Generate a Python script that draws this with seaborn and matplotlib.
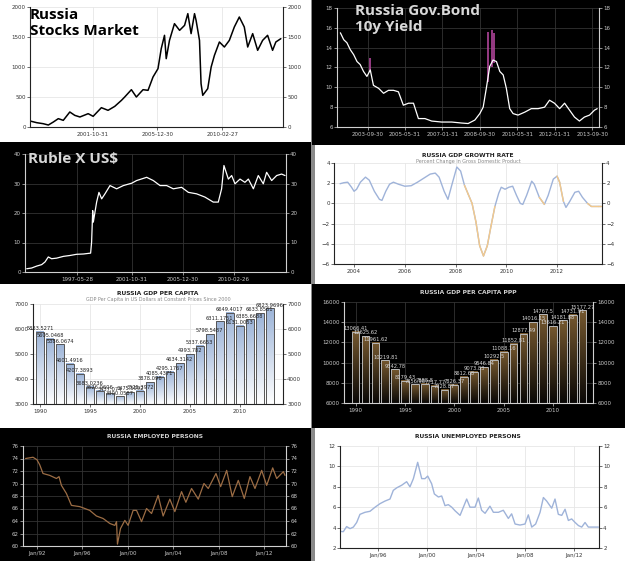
import numpy as np
import matplotlib
matplotlib.use("Agg")
import matplotlib.pyplot as plt
from matplotlib.colors import LinearSegmentedColormap
import seaborn as sns

# ---------------- data ----------------
# Russia stocks market (RTS index), decimal years
stock_years = [1997.80, 1998.23, 1998.65, 1998.98, 1999.30, 1999.62, 1999.94, 2000.36, 2000.68,
               2001.01, 2001.54, 2001.86, 2002.39, 2002.82, 2003.25, 2003.68, 2003.89, 2004.32,
               2004.64, 2005.07, 2005.39, 2005.71, 2006.03, 2006.24, 2006.45, 2006.56, 2006.77,
               2007.09, 2007.42, 2007.74, 2007.95, 2008.16, 2008.38, 2008.48, 2008.70, 2008.80,
               2008.91, 2009.23, 2009.45, 2009.66, 2009.98, 2010.30, 2010.62, 2010.94, 2011.26,
               2011.58, 2011.80, 2012.12, 2012.44, 2012.76, 2013.08, 2013.40, 2013.61, 2013.93]
stock_close = [100, 72, 55, 33, 83, 139, 111, 250, 194, 167, 222, 178, 322, 278, 344, 444, 500, 622,
               500, 622, 611, 833, 972, 1306, 1528, 1139, 1444, 1722, 1611, 1694, 1889, 1556, 1889,
               1778, 1444, 722, 528, 639, 1000, 1194, 1417, 1333, 1444, 1667, 1833, 1667, 1333, 1556,
               1278, 1444, 1528, 1278, 1417, 1472]
stock_ticks = [2001.83, 2005.99, 2010.16]
stock_labels = ["2001-10-31", "2005-12-30", "2010-02-27"]

# Russia 10y government bond yield
bond_years = [2002.54, 2002.69, 2002.83, 2002.98, 2003.13, 2003.28, 2003.42, 2003.57, 2003.72,
              2003.87, 2004.01, 2004.24, 2004.46, 2004.68, 2004.90, 2005.12, 2005.34, 2005.57,
              2005.79, 2006.01, 2006.30, 2006.60, 2007.04, 2007.49, 2007.93, 2008.22, 2008.52,
              2008.74, 2008.89, 2009.04, 2009.18, 2009.33, 2009.48, 2009.63, 2009.78, 2009.92,
              2010.07, 2010.22, 2010.44, 2010.74, 2011.03, 2011.33, 2011.62, 2011.84, 2012.06,
              2012.29, 2012.51, 2012.73, 2012.95, 2013.17, 2013.39, 2013.62, 2013.84, 2013.96]
bond_close = [15.5, 14.8, 14.5, 13.8, 13.3, 12.6, 12.3, 11.6, 11.1, 11.75, 10.2, 9.9, 9.4, 9.7, 9.7,
              9.55, 8.2, 8.4, 8.4, 6.85, 6.85, 6.6, 6.5, 6.5, 6.4, 6.35, 6.7, 7.35, 8.0, 10.05, 12.1,
              12.75, 12.6, 11.6, 11.25, 9.9, 7.85, 7.35, 7.2, 7.5, 7.85, 7.85, 8.0, 8.7, 8.4, 7.85,
              8.4, 7.7, 7.0, 6.6, 7.0, 7.2, 7.7, 7.85]
bond_spike_years = [2003.87, 2009.11, 2009.26, 2009.37]
bond_spike_low = [11.5, 10.5, 12.0, 12.5]
bond_spike_high = [13.0, 15.6, 15.8, 15.5]
bond_ticks = [2003.75, 2005.41, 2007.08, 2008.75, 2010.41, 2012.08, 2013.75]
bond_labels = ["2003-09-30", "2005-05-31", "2007-01-31", "2008-09-30",
               "2010-05-31", "2012-01-31", "2013-09-30"]

# Ruble per US dollar
ruble_years = [1993.27, 1993.67, 1994.08, 1994.49, 1994.76, 1995.03, 1995.30, 1995.71, 1996.26,
               1996.80, 1997.34, 1997.89, 1998.48, 1998.56, 1998.65, 1998.70, 1998.97, 1999.16,
               1999.38, 1999.65, 2000.06, 2000.60, 2001.15, 2001.83, 2002.23, 2003.05, 2003.59,
               2004.14, 2004.68, 2005.22, 2005.90, 2006.45, 2007.12, 2007.80, 2008.48, 2008.89,
               2009.16, 2009.35, 2009.71, 2009.98, 2010.25, 2010.66, 2011.06, 2011.34, 2011.75,
               2012.15, 2012.56, 2012.83, 2013.24, 2013.65, 2014.05, 2014.33]
ruble_rate = [1.1, 1.35, 2.0, 2.5, 3.4, 5.1, 4.5, 4.7, 5.3, 5.6, 6.0, 6.1, 6.4, 10.1, 20.8, 16.9, 23.7,
              27.0, 24.8, 26.5, 29.3, 28.2, 29.3, 30.1, 31.0, 32.1, 31.0, 29.3, 29.3, 28.2, 28.7,
              27.0, 26.5, 25.4, 23.7, 23.7, 28.2, 36.1, 31.5, 32.7, 29.9, 31.5, 30.4, 31.5, 28.2,
              32.7, 29.9, 33.8, 31.0, 32.7, 33.2, 32.7]
ruble_ticks = [1997.40, 2001.83, 2005.99, 2010.15]
ruble_labels = ["1997-05-28", "2001-10-31", "2005-12-30", "2010-02-26"]

# GDP growth rate (q/q, %)
growth_years = [2003.45, 2003.6, 2003.75, 2003.9, 2004.0, 2004.1, 2004.25, 2004.45, 2004.6, 2004.8,
                2005.0, 2005.1, 2005.25, 2005.4, 2005.55, 2005.75, 2006.0, 2006.25, 2006.5, 2006.75,
                2007.0, 2007.2, 2007.35, 2007.55, 2007.7, 2007.85, 2008.05, 2008.2, 2008.35, 2008.5,
                2008.65, 2008.8, 2008.95, 2009.1, 2009.25, 2009.4, 2009.55, 2009.7, 2009.8, 2009.95,
                2010.1, 2010.25, 2010.4, 2010.55, 2010.65, 2010.8, 2011.0, 2011.1, 2011.3, 2011.5,
                2011.65, 2011.85, 2012.0, 2012.1, 2012.25, 2012.35, 2012.5, 2012.7, 2012.85, 2013.0,
                2013.2, 2013.35, 2013.6, 2013.75]
growth_rate = [1.95, 2.05, 2.1, 1.6, 1.2, 1.4, 2.1, 2.6, 2.3, 1.2, 0.4, 0.3, 1.2, 1.9, 2.1, 1.9, 1.7,
               1.75, 2.1, 2.5, 2.9, 3.0, 2.6, 1.2, 0.4, 1.8, 3.6, 3.2, 1.8, 0.9, 0.0, -1.8, -4.2, -5.2,
               -4.2, -2.2, -0.3, 1.0, 1.6, 1.4, 1.6, 1.7, 0.8, 0.0, -0.1, 0.8, 2.2, 1.9, 0.6, -0.1,
               0.8, 2.4, 2.7, 2.1, 0.2, -0.4, 0.2, 1.1, 1.2, 0.6, 0.0, -0.3, -0.3, -0.3]
growth_orange = [False] * 28 + [True] * 9 + [False] * 11 + [True] * 2 + [False] * 2 \
    + [True] * 3 + [False] * 5 + [True] * 4

# GDP per capita (constant 2000 USD) and PPP
gdp_years = list(range(1990, 2014))
gdp_pc = [5883.5271, 5605.0468, 5386.0674, 4601.4916, 4207.3893, 3683.0236, 3526.0606, 3437.074,
          3300.0587, 3475.5992, 3525.3972, 3878.096, 4085.4371, 4295.1767, 4634.3142, 4993.782,
          5337.6653, 5798.5487, 6311.1751, 6649.4017, 6131.0053, 6385.6688, 6633.8561, 6823.9696]
gdp_ppp = [13066.41, 12625.62, 11961.62, 10219.81, 9342.78, 8179.43, 7856.98, 7888.8, 7717.77,
           7328.87, 7826.37, 8612.68, 9073.83, 9546.84, 10292.5, 11088.16, 11852.81, 12877.49,
           14016.15, 14767.5, 13616.21, 14181.88, 14731.91, 15177.27]

# Employed persons (millions)
emp_years = [1991.0, 1991.65, 1992.0, 1992.24, 1992.53, 1993.12, 1993.71, 1993.94, 1994.15, 1994.59,
             1995.03, 1995.76, 1996.06, 1996.64, 1997.23, 1997.82, 1998.41, 1998.85, 1999.0, 1999.08,
             1999.35, 1999.73, 2000.02, 2000.46, 2000.76, 2001.2, 2001.64, 2002.08, 2002.66, 2003.1,
             2003.69, 2004.13, 2004.72, 2005.1, 2005.6, 2006.19, 2006.69, 2007.07, 2007.75, 2008.16,
             2008.69, 2009.18, 2009.71, 2010.24, 2010.74, 2011.18, 2011.77, 2012.21, 2012.74, 2013.09,
             2013.68, 2013.82]
emp_persons = [74.0, 74.2, 73.8, 73.0, 71.6, 71.3, 70.8, 71.1, 69.7, 68.4, 66.5, 66.3, 66.1, 65.7,
               64.8, 64.4, 63.6, 63.3, 63.9, 60.3, 62.8, 64.1, 63.3, 65.7, 65.7, 63.9, 66.0, 65.2,
               68.1, 64.8, 67.5, 65.5, 68.7, 67.0, 69.2, 67.5, 70.0, 69.2, 71.6, 69.5, 72.1, 67.9,
               70.5, 67.6, 71.1, 69.2, 72.1, 69.7, 72.5, 70.8, 71.9, 71.3]

# Unemployed persons (millions)
unemp_years = [1992.87, 1993.14, 1993.41, 1993.69, 1993.96, 1994.23, 1994.5, 1994.91, 1995.32,
               1995.73, 1996.14, 1996.54, 1996.95, 1997.22, 1997.5, 1997.9, 1998.31, 1998.58,
               1998.86, 1999.21, 1999.54, 1999.81, 2000.03, 2000.35, 2000.57, 2000.9, 2001.17,
               2001.44, 2001.71, 2001.99, 2002.26, 2002.67, 2003.21, 2003.48, 2003.89, 2004.16,
               2004.43, 2004.71, 2005.11, 2005.39, 2005.8, 2006.2, 2006.61, 2006.88, 2007.16,
               2007.56, 2007.97, 2008.24, 2008.52, 2008.84, 2009.2, 2009.47, 2009.74, 2010.15,
               2010.42, 2010.69, 2010.97, 2011.24, 2011.51, 2011.78, 2012.06, 2012.33, 2012.6,
               2012.87, 2013.14, 2013.55, 2013.96]
unemp_persons = [3.63, 3.6, 4.1, 3.9, 4.05, 4.5, 5.3, 5.5, 5.6, 6.0, 6.35, 6.6, 6.8, 7.65, 7.9, 8.15,
                 8.5, 8.0, 8.8, 10.4, 8.8, 8.8, 9.05, 8.3, 7.3, 7.0, 7.1, 6.15, 6.25, 6.0, 5.65, 5.2,
                 6.8, 6.0, 6.0, 6.9, 5.7, 5.4, 6.1, 5.5, 5.5, 5.7, 4.9, 5.35, 4.35, 4.25, 4.35, 5.25,
                 4.05, 4.35, 5.5, 6.95, 6.6, 5.9, 6.8, 5.3, 5.2, 5.8, 4.7, 4.85, 4.5, 4.2, 4.05, 4.5,
                 4.05, 4.05, 4.05]
jan_ticks = [1992, 1996, 2000, 2004, 2008, 2012]
jan_labels = ["Jan/92", "Jan/96", "Jan/00", "Jan/04", "Jan/08", "Jan/12"]

# ---------------- layout helpers ----------------
sns.set_style("white")
plt.rcParams["font.family"] = ["DejaVu Sans"]

W, H = 625, 561
fig = plt.figure(figsize=(W / 100, H / 100), dpi=100, facecolor="#8a8a8a")


def box(x0, y0, x1, y1):
    return [x0 / W, 1 - y1 / H, (x1 - x0) / W, (y1 - y0) / H]


def panel(x0, y0, x1, y1, color):
    bg = fig.add_axes(box(x0, y0, x1, y1))
    bg.set_facecolor(color)
    bg.set_xticks([])
    bg.set_yticks([])
    for s in bg.spines.values():
        s.set_visible(False)


def make_axes(rect, dark, xlim, ylim, yticks, xticks, xlabels):
    ax = fig.add_axes(box(*rect))
    fg = "#c8c8c8" if dark else "#333333"
    spine = "#d0d0d0" if dark else "#222222"
    grid = "#333333" if dark else "#e6e6e6"
    ax.set_facecolor("none")
    ax.set_xlim(*xlim)
    ax.set_ylim(*ylim)
    ax.set_yticks(yticks)
    ax.set_xticks(xticks)
    ax.set_xticklabels(xlabels)
    ax.grid(True, color=grid, linewidth=0.6)
    ax.set_axisbelow(True)
    ax.spines["top"].set_visible(False)
    for s in ["left", "right", "bottom"]:
        ax.spines[s].set_color(spine)
        ax.spines[s].set_linewidth(0.8)
    ax.tick_params(axis="y", left=True, right=True, labelleft=True, labelright=True,
                   length=2, width=0.5, labelsize=4, colors=fg, pad=1)
    ax.tick_params(axis="x", bottom=True, length=2, width=0.5, labelsize=4, colors=fg, pad=1.5)
    ax.set_xlabel("")
    ax.set_ylabel("")
    return ax


def gradient_bars(ax, years, values, top_color, bottom_color, edge, label_color, ylo):
    sns.barplot(x=years, y=values, native_scale=True, width=0.78, color=top_color,
                ax=ax, zorder=2)
    cmap = LinearSegmentedColormap.from_list("g", [bottom_color, top_color])
    grad = np.linspace(0, 1, 128).reshape(-1, 1)
    for p in ax.patches:
        x, w, top = p.get_x(), p.get_width(), p.get_height()
        p.set_facecolor("none")
        p.set_edgecolor(edge)
        p.set_linewidth(0.7)
        p.set_zorder(3)
        ax.imshow(grad, extent=[x, x + w, ylo, top], origin="lower", cmap=cmap,
                  aspect="auto", zorder=2.5)
    ax.bar_label(ax.containers[0], labels=[f"{v}" for v in values], fontsize=3.7,
                 color=label_color, padding=0.5, zorder=4)


def small_title(x, y, text, color, sub=None, subcolor=None):
    fig.text(x / W, 1 - y / H, text, ha="center", va="center", fontsize=4.3,
             color=color, fontweight="bold")
    if sub:
        fig.text(x / W, 1 - (y + 6) / H, sub, ha="center", va="center", fontsize=3.5,
                 color=subcolor)


# ---------------- panel backgrounds ----------------
panel(0, 0, 311, 142, "white")
panel(312, 0, 625, 145, "black")
panel(0, 142, 311, 284, "black")
panel(315, 145, 625, 284, "white")
panel(0, 284, 311, 428, "white")
panel(312, 284, 625, 428, "black")
panel(0, 428, 311, 561, "black")
panel(315, 428, 625, 561, "white")

# 1. stocks market
ax1 = make_axes((30, 7, 283, 127), False, (1997.8, 2014.07), (0, 2000),
                [0, 500, 1000, 1500, 2000], stock_ticks, stock_labels)
sns.lineplot(x=stock_years, y=stock_close, color="black", linewidth=1.1, ax=ax1)
ax1.set_xlabel("")
ax1.set_ylabel("")
fig.text(30 / W, 1 - 8 / H, "Russia\nStocks Market", family=["Open Sans", "DejaVu Sans"],
         fontweight="bold", fontsize=11, color="black", va="top", ha="left", linespacing=1.15)

# 2. government bond yield
ax2 = make_axes((337, 8, 599, 127), True, (2002.39, 2014.04), (6, 18),
                [6, 8, 10, 12, 14, 16, 18], bond_ticks, bond_labels)
ax2.vlines(bond_spike_years, bond_spike_low, bond_spike_high, color="#b0459a", linewidth=1.2)
sns.lineplot(x=bond_years, y=bond_close, color="white", linewidth=0.9, ax=ax2)
ax2.set_xlabel("")
ax2.set_ylabel("")
fig.text(355 / W, 1 - 4 / H, "Russia Gov.Bond\n10y Yield", family=["Open Sans", "DejaVu Sans"],
         fontweight="bold", fontsize=11, color="#d8d8d8", va="top", ha="left", linespacing=1.15)

# 3. ruble per dollar
ax3 = make_axes((25, 154, 286, 272), True, (1993.13, 2014.41), (0, 40),
                [0, 10, 20, 30, 40], ruble_ticks, ruble_labels)
sns.lineplot(x=ruble_years, y=ruble_rate, color="white", linewidth=0.9, ax=ax3)
ax3.set_xlabel("")
ax3.set_ylabel("")
fig.text(28 / W, 1 - 152 / H, "Ruble X US$", family=["Open Sans", "DejaVu Sans"],
         fontweight="bold", fontsize=11, color="#d8d8d8", va="top", ha="left")

# 4. GDP growth rate
ax4 = make_axes((334, 163, 602, 264), False, (2003.21, 2013.77), (-6, 4),
                [-6, -4, -2, 0, 2, 4], [2004, 2006, 2008, 2010, 2012],
                ["2004", "2006", "2008", "2010", "2012"])
sns.lineplot(x=growth_years, y=growth_rate, color="#9fb3d9", linewidth=1.0, ax=ax4)
for i in range(len(growth_years) - 1):
    if growth_orange[i] and growth_orange[i + 1]:
        ax4.plot(growth_years[i:i + 2], growth_rate[i:i + 2], color="#f3c98c", linewidth=1.0)
ax4.set_xlabel("")
ax4.set_ylabel("")
small_title(468, 155, "RUSSIA GDP GROWTH RATE", "#222222",
            "Percent Change in Gross Domestic Product", "#888888")

# 5. GDP per capita
ax5 = make_axes((33, 304, 283, 404), False, (1989.3, 2014.33), (3000, 7000),
                [3000, 4000, 5000, 6000, 7000], [1990, 1995, 2000, 2005, 2010],
                ["1990", "1995", "2000", "2005", "2010"])
gradient_bars(ax5, gdp_years, gdp_pc, "#9cb4d8", "#ffffff", "#555555", "#222222", 3000)
ax5.set_xlim(1989.3, 2014.33)
ax5.set_ylim(3000, 7000)
ax5.set_xlabel("")
ax5.set_ylabel("")
small_title(158, 293, "RUSSIA GDP PER CAPITA", "#222222",
            "GDP Per Capita in US Dollars at Constant Prices Since 2000", "#888888")

# 6. GDP per capita PPP
ax6 = make_axes((344, 302, 593, 403), True, (1988.82, 2014.05), (6000, 16000),
                [6000, 8000, 10000, 12000, 14000, 16000], [1990, 1995, 2000, 2005, 2010],
                ["1990", "1995", "2000", "2005", "2010"])
gradient_bars(ax6, gdp_years, gdp_ppp, "#75582f", "#0a0806", "#b8b8b8", "#d8d8d8", 6000)
ax6.set_xlim(1988.82, 2014.05)
ax6.set_ylim(6000, 16000)
ax6.set_xlabel("")
ax6.set_ylabel("")
small_title(468, 292, "RUSSIA GDP PER CAPITA PPP", "#d0d0d0")

# 7. employed persons
ax7 = make_axes((23, 446, 286, 546), True, (1990.77, 2013.91), (60, 76),
                list(range(60, 77, 2)), jan_ticks, jan_labels)
sns.lineplot(x=emp_years, y=emp_persons, color="#9c6d45", linewidth=0.9, ax=ax7)
ax7.set_xlabel("")
ax7.set_ylabel("")
small_title(155, 436, "RUSSIA EMPLOYED PERSONS", "#d0d0d0")

# 8. unemployed persons
ax8 = make_axes((340, 446, 599, 548), False, (1992.87, 2014.01), (2, 12),
                [2, 4, 6, 8, 10, 12], jan_ticks[1:], jan_labels[1:])
sns.lineplot(x=unemp_years, y=unemp_persons, color="#9fb3d9", linewidth=1.0, ax=ax8)
ax8.set_xlabel("")
ax8.set_ylabel("")
small_title(468, 436, "RUSSIA UNEMPLOYED PERSONS", "#222222")

fig.savefig("out.png", dpi=100, facecolor=fig.get_facecolor())
